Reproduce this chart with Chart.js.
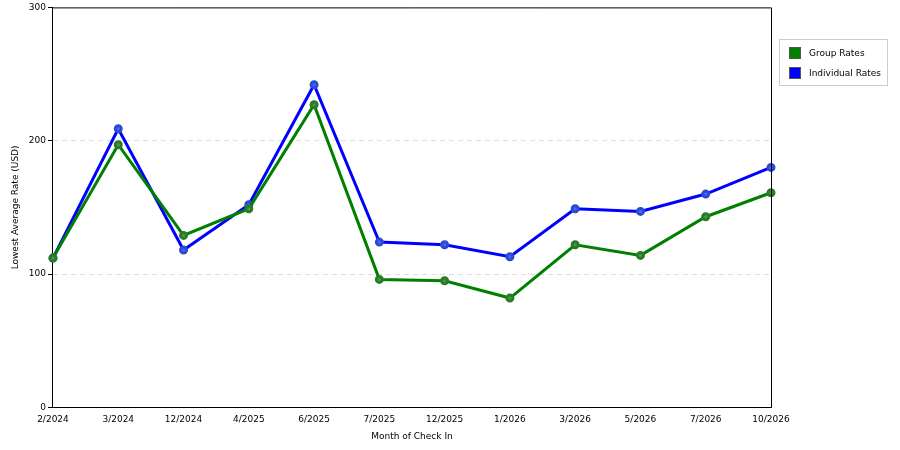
<!DOCTYPE html>
<html><head><meta charset="utf-8">
<script src="https://cdn.jsdelivr.net/npm/chart.js@4"></script>
<style>
body{margin:0;background:#fff;font-family:"DejaVu Sans",sans-serif;}
#wrap{position:relative;width:900px;height:450px;}
#legend{position:absolute;left:779px;top:39px;width:109px;height:47px;border:1px solid #ccc;font-size:9px;color:#000;box-sizing:border-box;}
.it{position:absolute;left:9px;display:flex;align-items:center;}
.sw{width:12px;height:12px;margin-right:8px;border:1px solid #555;box-sizing:border-box;}
</style></head><body>
<div id="wrap"><canvas id="c" width="900" height="450"></canvas>
<div id="legend">
<div class="it" style="top:7px"><span class="sw" style="background:#008000"></span>Group Rates</div>
<div class="it" style="top:27px"><span class="sw" style="background:#0000ff"></span>Individual Rates</div>
</div></div>
<script>
const categories=["2/2024","3/2024","12/2024","4/2025","6/2025","7/2025","12/2025","1/2026","3/2026","5/2026","7/2026","10/2026"];
const groupRates=[112,197,129,149,227,96,95,82,122,114,143,161];
const individualRates=[112,209,118,152,242,124,122,113,149,147,160,180];
const yTicks=[0,100,200,300];
const border={id:'border',afterDraw(c){const a=c.chartArea,x=c.ctx;x.save();x.strokeStyle='#000';x.lineWidth=1;x.beginPath();x.moveTo(a.left,a.top+0.5);x.lineTo(a.right+0.5,a.top+0.5);x.lineTo(a.right+0.5,a.bottom);x.stroke();x.restore();}};
Chart.defaults.font.family='"DejaVu Sans",sans-serif';
Chart.defaults.font.size=9;
Chart.defaults.color='#000';
new Chart(document.getElementById('c'),{type:'line',
data:{labels:categories,datasets:[
{label:'Group Rates',data:groupRates,borderColor:'#008000',backgroundColor:'#4a9a4a',borderWidth:3,pointRadius:3,pointBorderColor:'#2a7a2a',tension:0},
{label:'Individual Rates',data:individualRates,borderColor:'#0000ff',backgroundColor:'#4a6aff',borderWidth:3,pointRadius:3,pointBorderColor:'#2a4acf',tension:0}]},
options:{responsive:false,animation:false,layout:{padding:{left:6,right:129,top:5,bottom:4}},
plugins:{legend:{display:false},tooltip:{enabled:false}},
scales:{x:{offset:false,grid:{display:false,drawTicks:true,tickLength:5},border:{color:'#000'},ticks:{maxRotation:0,padding:2},title:{display:true,text:'Month of Check In',padding:{top:4}}},
y:{min:0,max:300,afterBuildTicks:s=>{s.ticks=yTicks.map(v=>({value:v}));},ticks:{padding:2},
grid:{color:c=>(c.tick.value==0||c.tick.value==300)?'rgba(0,0,0,0)':'#ddd',tickColor:'#000',tickLength:5,drawTicks:true},border:{color:'#000',dash:[5,4]},
title:{display:true,text:'Lowest Average Rate (USD)',padding:{bottom:6}}}}},
plugins:[border]});
</script></body></html>
